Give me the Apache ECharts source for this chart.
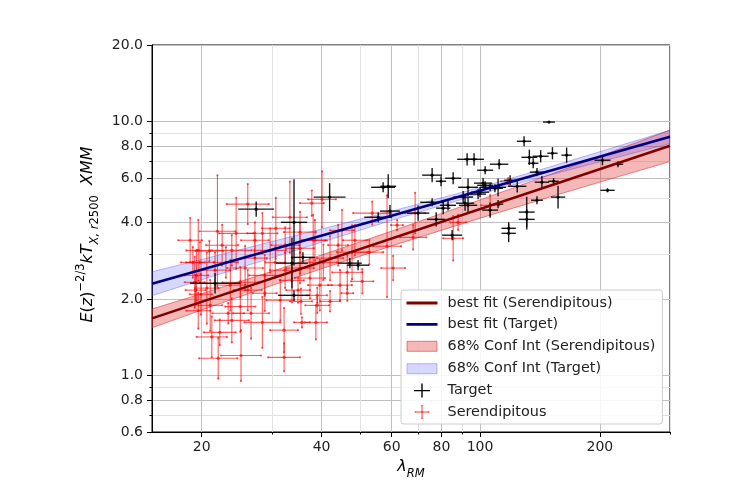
<!DOCTYPE html>
<html><head><meta charset="utf-8">
<script src="https://cdn.jsdelivr.net/npm/echarts@6/dist/echarts.min.js"></script>
<style>html,body{margin:0;padding:0;background:#fff}#c{width:754px;height:502px}</style>
</head><body><div id="c"></div>
<script>
// Points: [lambda_RM, E(z)^-2/3 kT, x error (dex), y error (dex)]
const targetPts = [
[149,9.95,.015,.004],[129,8.36,.018,.02],[152,7.50,.013,.024],[165,7.37,.013,.03],
[142,7.30,.02,.024],[133,7.23,.02,.03],[136,6.85,.013,.02],[139,6.32,.018,.016],
[92.8,7.10,.025,.024],[96.6,7.10,.025,.024],[111.7,6.79,.023,.02],[103,6.43,.02,.016],
[75.8,6.15,.025,.028],[79.8,5.82,.013,.02],[85.6,5.98,.02,.024],[58.8,5.56,.02,.047],
[57.1,5.51,.03,.02],[93.3,5.51,.025,.035],[100,5.27,.023,.02],[103,5.61,.02,.016],
[106,5.51,.025,.016],[111,5.51,.02,.035],[119,5.87,.015,.02],[124,5.56,.023,.024],
[143,5.77,.018,.024],[153,5.82,.013,.012],[203,7.04,.02,.02],[222,6.79,.013,.012],
[209,5.36,.018,.008],[157,5.04,.018,.045],[139,4.90,.015,.016],[131,4.40,.02,.06],
[131,4.12,.02,.04],[118,3.80,.018,.024],[118,3.63,.018,.035],[106,4.48,.02,.03],
[111,4.73,.013,.016],[98.9,5.18,.02,.02],[91.7,4.77,.023,.03],[83.1,4.68,.02,.02],
[77.6,4.12,.023,.028],[85.1,3.57,.025,.02],[69.9,4.36,.028,.03],[59.4,4.44,.025,.024],
[75.8,4.81,.03,.016],[55.5,4.20,.035,.02],[41.9,5.04,.04,.055],[27.4,4.52,.045,.03],
[34.1,4.01,.033,.17],[21.6,2.31,.063,.04],[33.7,2.77,.04,.1],[35.9,2.92,.03,.02],
[34.1,2.07,.04,.02],[47.1,2.77,.03,.02],[49.4,2.72,.028,.02],[101.8,5.72,.023,.02],
[109,5.46,.02,.016],[90.7,5.04,.025,.024],[93.3,4.68,.023,.03],[80.8,4.56,.018,.024]
];
const serendipPts = [
[26.1,4.73,.053,.079],[33.3,4.20,.043,.14],[21.9,3.70,.045,.22],[24.4,3.63,.043,.14],
[28.4,3.63,.038,.08],[19.6,3.11,.03,.12],[23.8,3.11,.05,.06],[40.1,4.94,.035,.11],
[53.6,4.36,.048,.045],[61.9,3.91,.015,.02],[68.7,4.36,.025,.08],[58.4,3.23,.035,.2],
[60.5,2.65,.03,.048],[50.6,2.35,.028,.048],[52.7,3.06,.035,.048],[47.7,3.06,.038,.106],
[42.0,2.90,.033,.087],[46.4,2.55,.038,.067],[85.6,3.47,.025,.087],[88.1,4.01,.02,.03],
[106,4.68,.023,.04],[117.7,5.82,.018,.012],[67.9,3.50,.033,.048],[39.0,2.07,.025,.03],
[39.0,1.89,.03,.03],[38.7,1.62,.028,.067],[42.0,1.96,.025,.04],[46.4,2.11,.015,.03],
[25.0,1.87,.038,.1],[23.3,1.76,.04,.04],[26.6,1.76,.045,.1],[23.8,1.65,.043,.087],
[28.4,1.62,.045,.1],[22.2,1.48,.04,.05],[21.2,1.42,.038,.08],[32.2,1.51,.035,.087],
[35.5,1.96,.028,.05],[35.7,1.62,.02,.02],[22.0,1.17,.048,.08],[25.1,1.20,.05,.1],
[32.2,1.18,.04,.055],[21.0,1.89,.03,.1],[20.9,3.09,.035,.04],[19.9,2.09,.028,.08],
[19.8,2.79,.035,.08],[21.6,2.60,.038,.07],[23.0,2.79,.03,.06],[25.7,2.65,.045,.087],
[27.2,2.90,.03,.1],[28.8,2.48,.04,.08],[30.6,2.79,.025,.06],[32.4,2.60,.038,.07],
[33.7,2.37,.03,.087],[35.3,2.65,.035,.06],[37.4,2.42,.038,.08],[39.6,2.27,.03,.1],
[23.6,2.27,.038,.1],[26.1,2.17,.035,.08],[28.8,2.11,.03,.07],[31.5,1.98,.035,.08],
[19.2,2.33,.025,.1],[20.6,2.21,.03,.14],[29.7,3.11,.04,.087],[35.3,3.17,.035,.1],
[32.4,3.26,.035,.07],[38.5,3.41,.03,.08],[44.0,3.26,.025,.08],[25.0,2.33,.045,.06],
[22.5,3.26,.04,.08],[27.2,3.41,.035,.07],[44.5,2.27,.03,.06],[19.4,2.48,.03,.1],
[19.3,2.17,.025,.06],[40.4,2.79,.035,.07],[34.9,2.17,.03,.05],[38.1,3.41,.03,.1],
[30.7,3.80,.035,.12],[35.3,3.67,.04,.08],[45.0,3.73,.03,.08],[48.5,3.41,.03,.06],
[18.7,3.41,.03,.087],[19.0,2.79,.03,.06],[19.6,1.80,.03,.07],[37.8,4.77,.03,.05]
];
// Best fit lines
const fitX = [15, 300];
const fitSer = [1.680, 8.023];
const fitTar = [2.300, 8.700];
// 68% confidence bands
const bandX = [15, 20, 30, 40, 60, 100, 150, 200, 300];
const serLo = [1.542, 1.813, 2.262, 2.634, 3.240, 4.164, 5.050, 5.774, 6.958];
const serHi = [1.829, 2.101, 2.572, 2.984, 3.704, 4.913, 6.184, 7.302, 9.257];
const tarLo = [2.064, 2.384, 2.907, 3.349, 4.084, 5.183, 6.163, 6.938, 8.194];
const tarHi = [2.563, 2.866, 3.369, 3.775, 4.438, 5.504, 6.634, 7.607, 9.235];
// Ticks
const xMajorTicks = [20, 40, 60, 80, 100, 200];
const xMinorTicks = [30, 50, 70, 90, 300];
const yMajorTicks = [0.6, 0.8, 1.0, 2.0, 4.0, 6.0, 8.0, 10.0, 20.0];
const yMinorTicks = [0.7, 0.9, 3, 5, 7, 9];

const FONT = 'DejaVu Sans';
const SER_FILL = 'rgba(225,40,40,0.33)', SER_EDGE = 'rgba(225,40,40,0.55)';
const TAR_FILL = 'rgba(60,60,255,0.20)', TAR_EDGE = 'rgba(60,60,255,0.35)';
const RED_BAR = 'rgba(255,0,0,0.65)', BLACK_BAR = 'rgba(0,0,0,0.9)';

function errRender(color, lw, caps) {
  return function (params, api) {
    const x = api.value(0), y = api.value(1), ex = api.value(2), ey = api.value(3);
    const fx = Math.pow(10, ex), fy = Math.pow(10, ey);
    const c = api.coord([x, y]);
    const l = api.coord([x / fx, y]), r = api.coord([x * fx, y]);
    const b = api.coord([x, y / fy]), t = api.coord([x, y * fy]);
    const ch = [
      {type: 'line', shape: {x1: l[0], y1: c[1], x2: r[0], y2: c[1]}, style: {stroke: color, lineWidth: lw}},
      {type: 'line', shape: {x1: c[0], y1: b[1], x2: c[0], y2: t[1]}, style: {stroke: color, lineWidth: lw}},
      {type: 'circle', shape: {cx: c[0], cy: c[1], r: 1.6}, style: {fill: color}}
    ];
    if (caps) {
      [[l[0], c[1]], [r[0], c[1]], [c[0], b[1]], [c[0], t[1]]].forEach(p => {
        ch.push({type: 'circle', shape: {cx: p[0], cy: p[1], r: 1.1}, style: {fill: color}});
      });
    }
    return {type: 'group', children: ch};
  };
}
function bandRender(lo, hi, fill, edge) {
  return function (params, api) {
    if (params.dataIndex !== 0) return;
    const pts = [];
    for (let i = 0; i < bandX.length; i++) pts.push(api.coord([bandX[i], hi[i]]));
    for (let i = bandX.length - 1; i >= 0; i--) pts.push(api.coord([bandX[i], lo[i]]));
    return {type: 'polygon', shape: {points: pts}, style: {fill: fill, stroke: edge, lineWidth: 1}};
  };
}

const CORNERS = 'M0,0L0.01,0L0,0.01Z M31,14L30.99,14L31,13.99Z ';
const LINE_ICON = 'path://' + CORNERS + 'M0,5.6L31,5.6L31,8.4L0,8.4Z';
const BAND_ICON = 'path://' + CORNERS + 'M0.5,2L30.5,2L30.5,12L0.5,12Z';
const PLUS_BLACK = 'path://' + CORNERS + 'M7.5,6.3L23.5,6.3L23.5,7.7L7.5,7.7Z M14.8,0L16.2,0L16.2,14L14.8,14Z';
const PLUS_RED = 'path://' + CORNERS + 'M9,6.5L22,6.5L22,7.5L9,7.5Z M15,0.5L16,0.5L16,13.5L15,13.5Z ' +
  'M8.2,6.2L9.8,6.2L9.8,7.8L8.2,7.8Z M21.2,6.2L22.8,6.2L22.8,7.8L21.2,7.8Z ' +
  'M14.7,0L16.3,0L16.3,1.4L14.7,1.4Z M14.7,12.6L16.3,12.6L16.3,14L14.7,14Z M14.5,6L16.5,6L16.5,8L14.5,8Z';

const richName = {
  i: {fontSize: 16, fontStyle: 'italic', fontFamily: FONT, color: '#000', lineHeight: 26},
  n: {fontSize: 16, fontFamily: FONT, color: '#000', lineHeight: 26},
  sp: {fontSize: 11.5, fontFamily: FONT, color: '#000', lineHeight: 11, verticalAlign: 'top'},
  sb: {fontSize: 11.5, fontStyle: 'italic', fontFamily: FONT, color: '#000', lineHeight: 11, verticalAlign: 'bottom'},
  sbn: {fontSize: 11.5, fontFamily: FONT, color: '#000', lineHeight: 11, verticalAlign: 'bottom'}
};

const chart = echarts.init(document.getElementById('c'), null, {renderer: 'canvas'});
chart.setOption({
  animation: false,
  backgroundColor: '#fff',
  grid: {left: 152, right: 84, top: 45, bottom: 70, show: true, borderColor: '#000', borderWidth: 1, backgroundColor: 'transparent'},
  xAxis: [{
    type: 'log', logBase: 10, min: 15, max: 300, position: 'bottom', gridIndex: 0,
    axisLine: {show: true, onZero: false, lineStyle: {color: '#000', width: 1}},
    axisTick: {show: true, length: 5, customValues: xMajorTicks, lineStyle: {color: '#000'}},
    axisLabel: {customValues: xMajorTicks, formatter: v => String(Math.round(v)), fontSize: 14, color: '#222', margin: 8, fontFamily: FONT},
    splitLine: {show: true, customValues: xMajorTicks, lineStyle: {color: '#c0c0c0', width: 1}},
    minorTick: {show: false}, minorSplitLine: {show: false},
    name: '{i|λ}{sb|RM}', nameLocation: 'middle', nameGap: 20,
    nameTextStyle: {rich: richName}
  }, {
    type: 'log', logBase: 10, min: 15, max: 300, position: 'bottom', gridIndex: 0,
    axisLine: {show: false}, axisLabel: {show: false},
    axisTick: {show: true, length: 2.5, customValues: xMinorTicks, lineStyle: {color: '#000'}},
    splitLine: {show: true, customValues: xMinorTicks, lineStyle: {color: '#e2e2e2', width: 1}}
  }],
  yAxis: [{
    type: 'log', logBase: 10, min: 0.6, max: 20, position: 'left', gridIndex: 0,
    axisLine: {show: true, onZero: false, lineStyle: {color: '#000', width: 1}},
    axisTick: {show: true, length: 5, customValues: yMajorTicks, lineStyle: {color: '#000'}},
    axisLabel: {customValues: yMajorTicks, formatter: v => Number(v).toFixed(1), fontSize: 14, color: '#222', margin: 9, fontFamily: FONT},
    splitLine: {show: true, customValues: yMajorTicks, lineStyle: {color: '#c0c0c0', width: 1}},
    minorTick: {show: false}, minorSplitLine: {show: false},
    name: '{i|E}{n|(}{i|z}{n|)}{sp|−2/3}{i|kT}{sb|X, r}{sbn|2500}{i|  XMM}',
    nameLocation: 'middle', nameRotate: 90, nameGap: 35,
    nameTextStyle: {rich: richName, padding: [0, 0, 0, 8]}
  }, {
    type: 'log', logBase: 10, min: 0.6, max: 20, position: 'left', gridIndex: 0,
    axisLine: {show: false}, axisLabel: {show: false},
    axisTick: {show: true, length: 2.5, customValues: yMinorTicks, lineStyle: {color: '#000'}},
    splitLine: {show: true, customValues: yMinorTicks, lineStyle: {color: '#e2e2e2', width: 1}}
  }],
  legend: {
    left: 401, top: 290, orient: 'vertical', selectedMode: false,
    itemWidth: 31, itemHeight: 14, itemGap: 7.4,
    padding: [6, 7, 5, 5],
    backgroundColor: 'rgba(255,255,255,0.85)', borderColor: '#cccccc', borderWidth: 1, borderRadius: 3,
    textStyle: {fontSize: 14.4, fontFamily: FONT, color: '#222', padding: [0, 0, 0, 5]},
    data: [
      {name: 'best fit (Serendipitous)', icon: LINE_ICON, itemStyle: {color: '#800000', borderWidth: 0}},
      {name: 'best fit (Target)', icon: LINE_ICON, itemStyle: {color: '#000080', borderWidth: 0}},
      {name: '68% Conf Int (Serendipitous)', icon: BAND_ICON, itemStyle: {color: SER_FILL, borderColor: SER_EDGE, borderWidth: 1}},
      {name: '68% Conf Int (Target)', icon: BAND_ICON, itemStyle: {color: TAR_FILL, borderColor: TAR_EDGE, borderWidth: 1}},
      {name: 'Target', icon: PLUS_BLACK, itemStyle: {color: '#000', borderWidth: 0}},
      {name: 'Serendipitous', icon: PLUS_RED, itemStyle: {color: 'rgba(255,0,0,0.75)', borderWidth: 0}}
    ]
  },
  series: [
    {name: '68% Conf Int (Serendipitous)', type: 'custom', xAxisIndex: 0, yAxisIndex: 0, z: 1, clip: true,
     data: bandX.map((x, i) => [x, serLo[i], serHi[i]]), encode: {x: 0, y: [1, 2]},
     itemStyle: {color: SER_FILL}, renderItem: bandRender(serLo, serHi, SER_FILL, SER_EDGE)},
    {name: '68% Conf Int (Target)', type: 'custom', xAxisIndex: 0, yAxisIndex: 0, z: 1, clip: true,
     data: bandX.map((x, i) => [x, tarLo[i], tarHi[i]]), encode: {x: 0, y: [1, 2]},
     itemStyle: {color: TAR_FILL}, renderItem: bandRender(tarLo, tarHi, TAR_FILL, TAR_EDGE)},
    {name: 'Serendipitous', type: 'custom', xAxisIndex: 0, yAxisIndex: 0, z: 2, clip: true,
     data: serendipPts, encode: {x: 0, y: 1}, itemStyle: {color: RED_BAR},
     renderItem: errRender(RED_BAR, 1.1, true)},
    {name: 'Target', type: 'custom', xAxisIndex: 0, yAxisIndex: 0, z: 3, clip: true,
     data: targetPts, encode: {x: 0, y: 1}, itemStyle: {color: BLACK_BAR},
     renderItem: errRender(BLACK_BAR, 1.4, false)},
    {name: 'best fit (Serendipitous)', type: 'line', xAxisIndex: 0, yAxisIndex: 0, z: 4,
     data: fitX.map((x, i) => [x, fitSer[i]]), showSymbol: false, symbol: 'none',
     lineStyle: {color: '#800000', width: 2.6}, itemStyle: {color: '#800000'}},
    {name: 'best fit (Target)', type: 'line', xAxisIndex: 0, yAxisIndex: 0, z: 4,
     data: fitX.map((x, i) => [x, fitTar[i]]), showSymbol: false, symbol: 'none',
     lineStyle: {color: '#000080', width: 2.6}, itemStyle: {color: '#000080'}}
  ]
});
</script></body></html>
